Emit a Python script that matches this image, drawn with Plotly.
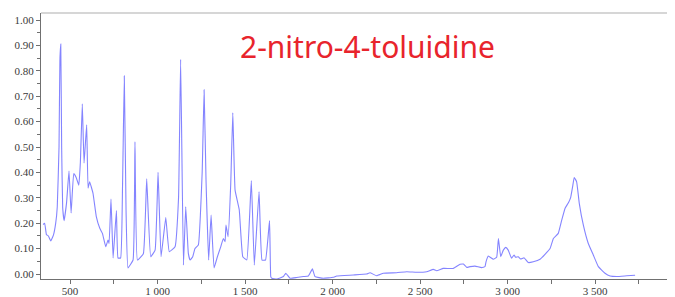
import plotly.graph_objects as go

# IR spectrum of 2-nitro-4-toluidine
wavenumber = [346, 355, 365, 376, 390, 405, 418, 427, 437, 442, 447, 452, 458, 466, 480, 494, 506,
              521, 535, 550, 559, 570, 580, 595, 603, 612, 631, 650, 670, 685, 704, 717, 723,
              734, 746, 765, 774, 789, 800, 810, 820, 831, 860, 871, 885, 919, 938, 961, 986,
              1003, 1020, 1047, 1067, 1100, 1120, 1132, 1148, 1161, 1176, 1186, 1201, 1214, 1233,
              1255, 1266, 1277, 1292, 1306, 1323, 1342, 1361, 1376, 1386, 1391, 1403, 1418, 1430,
              1443, 1467, 1487, 1510, 1536, 1553, 1580, 1597, 1617, 1640, 1647, 1653, 1681, 1719,
              1733, 1757, 1795, 1833, 1862, 1885, 1900, 1947, 2004, 2024, 2119, 2195, 2214, 2252,
              2290, 2366, 2424, 2481, 2538, 2576, 2595, 2633, 2690, 2729, 2748, 2767, 2786, 2814,
              2852, 2871, 2877, 2890, 2919, 2938, 2948, 2961, 2976, 2990, 3004, 3023, 3037, 3046,
              3061, 3075, 3094, 3119, 3147, 3186, 3214, 3243, 3262, 3290, 3310, 3329, 3348, 3361,
              3372, 3381, 3395, 3410, 3433, 3461, 3490, 3519, 3557, 3586, 3624, 3681, 3729]
absorbance = [0.195, 0.200, 0.155, 0.150, 0.130, 0.153, 0.200, 0.265, 0.500, 0.840, 0.905, 0.500,
              0.260, 0.210, 0.280, 0.405, 0.240, 0.395, 0.380, 0.350, 0.440, 0.670, 0.437, 0.587,
              0.338, 0.363, 0.318, 0.226, 0.180, 0.160, 0.107, 0.134, 0.120, 0.295, 0.063, 0.250,
              0.063, 0.063, 0.350, 0.780, 0.250, 0.024, 0.055, 0.520, 0.055, 0.080, 0.375, 0.068,
              0.094, 0.400, 0.068, 0.222, 0.088, 0.107, 0.300, 0.845, 0.035, 0.265, 0.081, 0.055,
              0.068, 0.100, 0.114, 0.400, 0.725, 0.370, 0.055, 0.232, 0.024, 0.068, 0.107, 0.140,
              0.127, 0.193, 0.147, 0.350, 0.635, 0.330, 0.252, 0.068, 0.055, 0.368, 0.035, 0.324,
              0.055, 0.055, 0.210, -0.010, -0.017, -0.020, -0.010, 0.003, -0.017, -0.014, -0.010,
              -0.008, 0.020, -0.010, -0.017, -0.013, -0.008, -0.004, 0.000, 0.005, -0.007, 0.003,
              0.005, 0.009, 0.007, 0.009, 0.018, 0.013, 0.022, 0.022, 0.038, 0.039, 0.026, 0.029,
              0.031, 0.025, 0.029, 0.048, 0.071, 0.058, 0.066, 0.140, 0.068, 0.094, 0.105, 0.094,
              0.062, 0.075, 0.066, 0.068, 0.059, 0.064, 0.045, 0.048, 0.058, 0.077, 0.100, 0.140,
              0.160, 0.213, 0.259, 0.281, 0.302, 0.344, 0.380, 0.363, 0.278, 0.193, 0.121, 0.075,
              0.029, 0.003, -0.008, -0.010, -0.007, -0.005, -0.004]

x_tick_values = [500, 1000, 1500, 2000, 2500, 3000, 3500]
x_tick_labels = ["500", "1 000", "1 500", "2 000", "2 500", "3 000", "3 500"]
y_tick_values = [0.0, 0.1, 0.2, 0.3, 0.4, 0.5, 0.6, 0.7, 0.8, 0.9, 1.0]
y_tick_labels = ["0.00", "0.10", "0.20", "0.30", "0.40", "0.50", "0.60", "0.70", "0.80", "0.90", "1.00"]
title_text = "2-nitro-4-toluidine"

fig = go.Figure()
fig.add_trace(go.Scatter(
    x=wavenumber, y=absorbance, mode="lines",
    line=dict(color="rgba(110,110,255,0.85)", width=1.1, shape="spline", smoothing=0.3),
    hoverinfo="skip", showlegend=False,
))

tick_font = dict(family="Liberation Serif, Times New Roman, serif", size=11, color="#3a3a3a")

# the page body adds an 8px margin, so the figure is 8px smaller than the window
fig.update_layout(
    width=667, height=289,
    margin=dict(l=33, r=7, t=5, b=18, autoexpand=False),
    paper_bgcolor="white", plot_bgcolor="white",
    showlegend=False,
    xaxis=dict(
        range=[334, 3917], showgrid=False, zeroline=False, automargin=False,
        showline=True, linecolor="#707070", linewidth=1,
        tickmode="array", tickvals=x_tick_values, ticktext=x_tick_labels,
        ticks="outside", ticklen=4, tickcolor="#707070", ticklabelstandoff=-2,
        minor=dict(dtick=250, tick0=0, ticks="outside", ticklen=4, tickcolor="#707070"),
        tickfont=tick_font,
    ),
    yaxis=dict(
        range=[-0.0197, 1.0276], showgrid=False, zeroline=False, automargin=False,
        showline=True, linecolor="#707070", linewidth=1,
        tickmode="array", tickvals=y_tick_values, ticktext=y_tick_labels,
        ticks="outside", ticklen=4, tickcolor="#707070",
        minor=dict(dtick=0.05, tick0=0, ticks="outside", ticklen=3, tickcolor="#707070"),
        tickfont=tick_font,
    ),
    shapes=[
        dict(type="line", xref="paper", yref="paper", x0=0, x1=1.012, y0=1, y1=1,
             line=dict(color="#c8c8c8", width=1.5)),
    ],
    annotations=[
        dict(text=title_text, xref="paper", yref="paper", x=0.52, y=0.875,
             xanchor="center", yanchor="middle", showarrow=False,
             font=dict(family="Noto Sans, Open Sans, sans-serif", size=30, color="#e8242c")),
    ],
)

fig.write_html("out.html")
